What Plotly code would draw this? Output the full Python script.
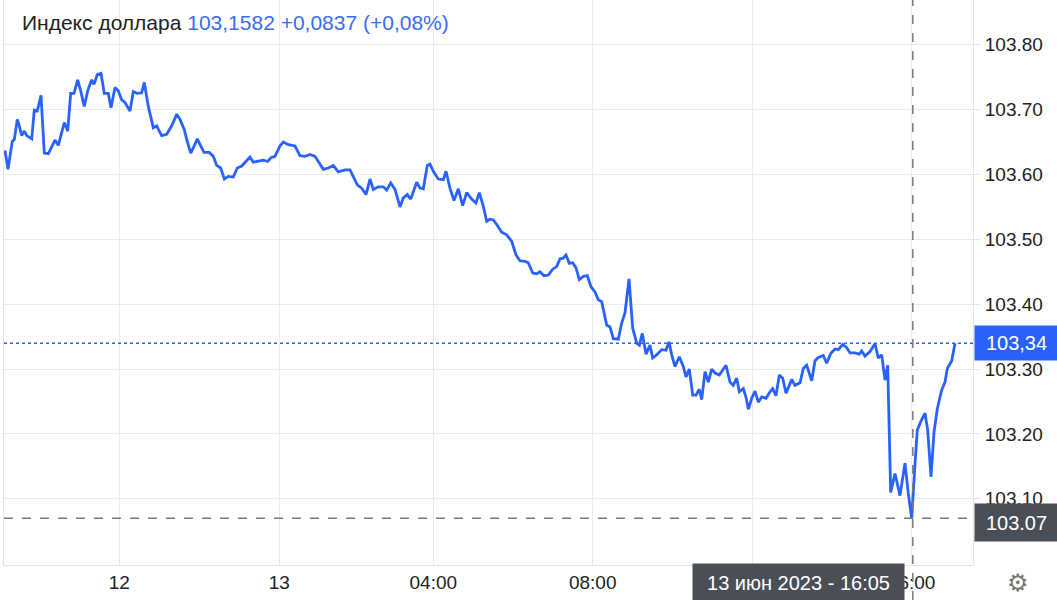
import plotly.graph_objects as go

# chart position units (≈ hours, Jun 13 00:00 = 0 on a compressed intraday axis)
t = [-7.277, -7.200, -7.089, -7.037, -6.960, -6.916, -6.846, -6.779, -6.717, -6.588,
     -6.521, -6.444, -6.348, -6.263, -6.160, -6.072, -5.987, -5.902, -5.832, -5.747,
     -5.659, -5.582, -5.497, -5.401, -5.324, -5.231, -5.143, -5.040, -4.981, -4.895,
     -4.800, -4.715, -4.612, -4.542, -4.439, -4.354, -4.266, -4.181, -4.052, -3.966,
     -3.863, -3.750, -3.683, -3.579, -3.450, -3.363, -3.234, -3.105, -2.975, -2.846,
     -2.761, -2.650, -2.588, -2.485, -2.418, -2.315, -2.227, -2.142, -2.005, -1.902,
     -1.814, -1.711, -1.618, -1.515, -1.386, -1.283, -1.169, -1.058, -0.955, -0.870,
     -0.741, -0.612, -0.498, -0.413, -0.310, -0.181, -0.095, 0.034, 0.206, 0.335,
     0.465, 0.594, 0.723, 0.834, 0.937, 1.066, 1.195, 1.324, 1.412, 1.497,
     1.626, 1.711, 1.814, 1.928, 2.039, 2.142, 2.227, 2.356, 2.485, 2.573,
     2.676, 2.787, 2.916, 3.001, 3.105, 3.192, 3.347, 3.432, 3.517, 3.621,
     3.690, 3.775, 3.905, 4.034, 4.103, 4.206, 4.310, 4.421, 4.534, 4.637,
     4.766, 4.877, 4.963, 5.066, 5.154, 5.239, 5.324, 5.412, 5.541, 5.670,
     5.799, 5.910, 6.013, 6.142, 6.227, 6.341, 6.444, 6.529, 6.632, 6.743,
     6.857, 6.960, 7.045, 7.130, 7.200, 7.285, 7.373, 7.458, 7.543, 7.646,
     7.750, 7.845, 7.948, 8.034, 8.121, 8.250, 8.335, 8.421, 8.550, 8.637,
     8.723, 8.826, 8.921, 9.025, 9.092, 9.169, 9.265, 9.368, 9.437, 9.541,
     9.670, 9.781, 9.858, 9.928, 10.013, 10.124, 10.227, 10.297, 10.382, 10.470,
     10.555, 10.640, 10.702, 10.787, 10.872, 10.960, 11.045, 11.156, 11.329, 11.432,
     11.517, 11.605, 11.672, 11.775, 11.845, 11.905, 11.992, 12.077, 12.163, 12.250,
     12.361, 12.465, 12.534, 12.619, 12.705, 12.792, 12.877, 13.025, 13.110, 13.239,
     13.324, 13.412, 13.497, 13.541, 13.626, 13.711, 13.840, 13.928, 14.031, 14.142,
     14.227, 14.341, 14.444, 14.529, 14.658, 14.769, 14.831, 14.916, 15.045, 15.174,
     15.259, 15.347, 15.432, 15.502, 15.579, 15.690, 15.819, 15.948, 16.034, 16.121,
     16.206, 16.266, 16.354, 16.465, 16.534, 16.619, 16.697, 16.782, 16.895, 16.981,
     17.040, 17.154, 17.239]

price = [103.637, 103.608, 103.651, 103.654, 103.685, 103.677, 103.660, 103.667, 103.660, 103.655,
         103.699, 103.698, 103.722, 103.633, 103.632, 103.643, 103.653, 103.645, 103.659, 103.680,
         103.667, 103.725, 103.725, 103.746, 103.729, 103.705, 103.729, 103.746, 103.739, 103.754,
         103.756, 103.725, 103.725, 103.703, 103.734, 103.729, 103.715, 103.711, 103.698, 103.728,
         103.725, 103.726, 103.742, 103.705, 103.672, 103.675, 103.660, 103.662, 103.675, 103.693,
         103.685, 103.669, 103.654, 103.633, 103.641, 103.655, 103.644, 103.634, 103.634, 103.628,
         103.614, 103.610, 103.593, 103.597, 103.596, 103.610, 103.613, 103.620, 103.627, 103.619,
         103.620, 103.622, 103.620, 103.626, 103.628, 103.644, 103.650, 103.646, 103.644, 103.629,
         103.628, 103.631, 103.628, 103.618, 103.608, 103.610, 103.614, 103.604, 103.605, 103.607,
         103.607, 103.596, 103.584, 103.579, 103.569, 103.593, 103.577, 103.581, 103.581, 103.576,
         103.587, 103.577, 103.550, 103.564, 103.569, 103.562, 103.588, 103.579, 103.578, 103.614,
         103.616, 103.605, 103.593, 103.592, 103.605, 103.579, 103.560, 103.578, 103.552, 103.572,
         103.562, 103.556, 103.572, 103.551, 103.528, 103.531, 103.530, 103.523, 103.511, 103.507,
         103.497, 103.476, 103.467, 103.466, 103.464, 103.448, 103.447, 103.450, 103.444, 103.445,
         103.454, 103.458, 103.470, 103.471, 103.476, 103.463, 103.464, 103.456, 103.438, 103.443,
         103.444, 103.427, 103.419, 103.407, 103.404, 103.368, 103.365, 103.347, 103.346, 103.371,
         103.387, 103.439, 103.363, 103.340, 103.337, 103.355, 103.323, 103.337, 103.317, 103.322,
         103.330, 103.329, 103.342, 103.322, 103.304, 103.319, 103.304, 103.288, 103.300, 103.260,
         103.260, 103.269, 103.253, 103.296, 103.280, 103.300, 103.294, 103.291, 103.306, 103.280,
         103.275, 103.286, 103.265, 103.270, 103.257, 103.238, 103.255, 103.266, 103.249, 103.257,
         103.255, 103.265, 103.270, 103.259, 103.291, 103.286, 103.263, 103.284, 103.275, 103.279,
         103.301, 103.306, 103.288, 103.282, 103.313, 103.318, 103.321, 103.309, 103.324, 103.331,
         103.330, 103.338, 103.333, 103.325, 103.325, 103.323, 103.328, 103.320, 103.327, 103.339,
         103.317, 103.322, 103.283, 103.306, 103.110, 103.139, 103.105, 103.155, 103.108, 103.070,
         103.154, 103.206, 103.219, 103.232, 103.206, 103.134, 103.203, 103.239, 103.268, 103.280,
         103.301, 103.313, 103.340]

x_tickvals = [-4.328, -0.199, 3.775, 7.889, 12.005, 16.119]
x_ticktext = ["12", "13", "04:00", "08:00", "12:00", "16:00"]
y_tickvals = [103.1, 103.2, 103.3, 103.4, 103.5, 103.6, 103.7, 103.8]
y_ticktext = ["103.10", "103.20", "103.30", "103.40", "103.50", "103.60", "103.70", "103.80"]

title_text = "Индекс доллара"
quote_text = "103,1582 +0,0837 (+0,08%)"
last_price = 103.34
last_label = "103,34"
cross_price = 103.07
cross_label = "103.07"
cross_t = 16.15
cross_time_label = "13 июн 2023 - 16:05"

BLUE = "#2962ff"
QUOTE_BLUE = "#3a6cf4"
DARK = "#4a4e57"
GRID = "#ebebeb"
FONT = "Liberation Sans, Arial, sans-serif"

fig = go.Figure()
fig.add_trace(go.Scatter(x=t, y=price, mode="lines",
                         line=dict(color=BLUE, width=2.8), hoverinfo="skip"))

fig.update_layout(
    width=1057, height=600,
    margin=dict(l=4, r=84, t=0, b=35, autoexpand=False),
    paper_bgcolor="white", plot_bgcolor="white",
    showlegend=False,
    font=dict(family=FONT, size=19, color="#222"),
    xaxis=dict(range=[-7.303, 17.703], tickvals=x_tickvals, ticktext=x_ticktext,
               showgrid=True, gridcolor=GRID, gridwidth=1, zeroline=False,
               showline=True, linecolor="#e3e3e3", linewidth=1,
               ticks="", ticklabelstandoff=0, automargin=False,
               tickfont=dict(size=19, color="#222")),
    yaxis=dict(range=[102.998, 103.869], side="right", tickvals=y_tickvals, ticktext=y_ticktext,
               showgrid=True, gridcolor=GRID, gridwidth=1, zeroline=False,
               showline=True, mirror=True, linecolor="#e3e3e3", linewidth=1,
               ticks="outside", ticklen=6, tickcolor="#e3e3e3",
               ticklabelstandoff=1, automargin=False,
               tickfont=dict(size=19, color="#222")),
)

shapes = [
    dict(type="line", xref="paper", yref="y", x0=0, x1=1, y0=last_price, y1=last_price,
         line=dict(color=BLUE, width=1.5, dash="dot")),
    dict(type="line", xref="paper", yref="y", x0=0, x1=1, y0=cross_price, y1=cross_price,
         line=dict(color="#7a7a7a", width=1.5, dash="dash")),
    dict(type="line", xref="x", yref="paper", x0=cross_t, x1=cross_t, y0=-0.062, y1=1,
         line=dict(color="#7a7a7a", width=1.5, dash="dash")),
]
fig.update_layout(shapes=shapes)

annotations = [
    dict(xref="paper", yref="paper", x=0.0165, y=0.961, xanchor="left", yanchor="middle",
         showarrow=False, align="left",
         text=f"{title_text} <span style='color:{QUOTE_BLUE}'>{quote_text}</span>",
         font=dict(size=21, color="#222")),
    dict(xref="paper", yref="y", x=1, y=last_price, xanchor="left", yanchor="middle",
         xshift=1, showarrow=False, text=last_label, bgcolor=BLUE,
         width=83, height=34, borderpad=0, font=dict(size=20, color="white")),
    dict(xref="paper", yref="y", x=1, y=cross_price, xanchor="left", yanchor="middle",
         xshift=1, yshift=-4, showarrow=False, text=cross_label, bgcolor=DARK,
         width=83, height=37, borderpad=0, font=dict(size=20, color="white")),
    dict(xref="x", yref="paper", x=cross_t, y=0, xanchor="right", yanchor="top",
         xshift=-8, yshift=2, showarrow=False, text=cross_time_label, bgcolor=DARK,
         width=211, height=37, borderpad=0, font=dict(size=20, color="white")),
    dict(xref="paper", yref="paper", x=1.0464, y=-0.032, xanchor="center", yanchor="middle",
         showarrow=False, text="⚙", font=dict(size=24, color="#777", family="DejaVu Sans")),
]
fig.update_layout(annotations=annotations)

fig.write_html("out.html", config={"displayModeBar": False},
               post_script="document.body.style.margin='0px';document.body.style.overflow='hidden';")
